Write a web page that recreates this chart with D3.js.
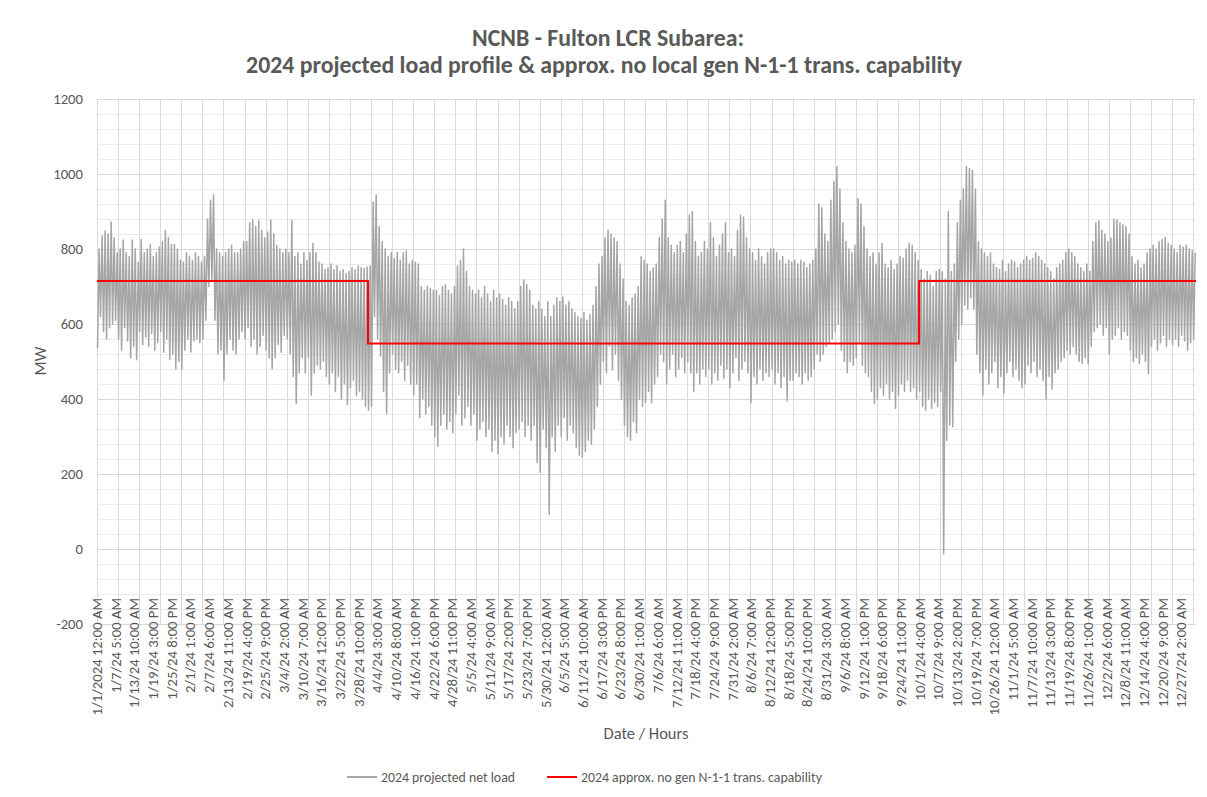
<!DOCTYPE html>
<html>
<head>
<meta charset="utf-8">
<script src="https://cdn.jsdelivr.net/npm/d3@7"></script>
<style>
  body { margin: 0; background: #fff; }
  text { font-family: Calibri, Carlito, Lato, sans-serif; fill: #595959; }
</style>
</head>
<body>
<svg id="chart" width="1207" height="797"></svg>
<script>
// daily high / low of the projected net load (MW), one value per day
const dailyHigh = [
  800, 835, 848, 840, 872, 830, 790,   800, 824, 790, 780, 824, 800, 765,
  825, 790, 800, 812, 780, 790, 805,   820, 850, 830, 812, 812, 800, 770,
  765, 790, 780, 770, 790, 780, 765,   780, 880, 930, 944, 800, 790, 780,
  790, 800, 810, 790, 790, 800, 820,   820, 870, 878, 860, 875, 850, 830,
  845, 877, 840, 810, 800, 790, 800,   790, 877, 780, 790, 760, 790, 770,
  790, 815, 790, 765, 760, 745, 750,   760, 745, 755, 740, 745, 735, 740,
  750, 745, 755, 750, 748, 752, 755,   925, 944, 860, 820, 800, 780, 790,
  775, 790, 770, 790, 795, 760, 770,   765, 760, 700, 690, 700, 695, 690,
  690, 675, 700, 705, 690, 680, 700,   755, 770, 800, 740, 700, 690, 680,
  690, 670, 700, 680, 660, 690, 670,   680, 665, 650, 670, 660, 640, 660,
  700, 717, 705, 690, 650, 640, 660,   640, 620, 660, 620, 650, 670, 660,
  672, 650, 660, 640, 630, 620, 615,   630, 610, 625, 650, 700, 760, 780,
  830, 850, 840, 830, 820, 760, 720,   660, 650, 670, 680, 700, 780, 770,
  760, 740, 750, 760, 830, 880, 930,   830, 810, 790, 810, 820, 790, 840,
  890, 900, 820, 780, 790, 820, 800,   870, 830, 780, 810, 840, 870, 790,
  800, 780, 850, 890, 885, 830, 800,   790, 770, 800, 780, 760, 790, 800,
  800, 790, 770, 780, 760, 770, 765,   770, 760, 770, 765, 750, 760, 770,
  800, 920, 910, 840, 820, 930, 980,  1020, 960, 870, 820, 800, 790, 810,
  935, 920, 860, 800, 780, 790, 760,   790, 815, 760, 750, 770, 745, 760,
  780, 775, 800, 815, 810, 790, 770,   745, 720, 740, 730, 700, 740, 745,
  740, 720, 900, 740, 760, 870, 930,   960, 1020, 1015, 1010, 960, 820, 800,
  790, 780, 790, 760, 750, 745, 770,   740, 760, 770, 765, 750, 760, 770,
  780, 770, 775, 790, 780, 770, 760,   750, 740, 720, 750, 760, 770, 790,
  800, 790, 780, 760, 750, 740, 760,   740, 820, 870, 875, 850, 840, 820,
  830, 880, 878, 870, 865, 860, 840,   780, 760, 770, 750, 760, 790, 800,
  810, 800, 820, 825, 830, 815, 810,   800, 790, 810, 805, 810, 800, 795,
  790
];
const dailyLow = [
  535, 620, 580, 560, 590, 600, 610,   560, 530, 590, 555, 510, 540, 505,
  580, 545, 565, 540, 575, 530, 550,   580, 525, 560, 505, 520, 480, 500,
  480, 530, 560, 525, 555, 560, 550,   560, 610, 700, 720, 610, 520, 530,
  450, 520, 560, 530, 520, 560, 580,   560, 590, 540, 560, 520, 540, 570,
  530, 510, 480, 510, 545, 525, 570,   560, 520, 460, 388, 470, 510, 470,
  510, 410, 470, 490, 480, 500, 460,   440, 470, 420, 460, 400, 440, 385,
  430, 450, 410, 420, 400, 380, 370,   380, 620, 560, 514, 420, 362, 470,
  520, 480, 470, 500, 450, 490, 440,   410, 440, 350, 400, 360, 380, 330,
  300, 274, 330, 360, 320, 340, 310,   360, 410, 330, 350, 380, 330, 360,
  290, 320, 340, 300, 320, 260, 290,   255, 300, 280, 330, 300, 270, 310,
  320, 340, 300, 330, 290, 330, 230,   205, 320, 270,  92, 300, 260, 330,
  300, 350, 290, 330, 310, 270, 250,   245, 260, 290, 280, 320, 380, 440,
  500, 470, 540, 478, 520, 450, 400,   330, 300, 290, 340, 310, 400, 380,
  390, 420, 390, 440, 460, 520, 500,   440, 480, 520, 460, 480, 510, 470,
  500, 470, 420, 470, 440, 480, 460,   480, 440, 470, 450, 490, 455, 480,
  430, 470, 510, 450, 480, 500, 470,   390, 460, 440, 480, 450, 470, 460,
  480, 440, 470, 430, 460, 395, 450,   450, 470, 460, 440, 470, 450, 460,
  480, 520, 500, 520, 540, 550, 560,   580, 600, 530, 500, 470, 500, 490,
  510, 550, 490, 470, 460, 420, 388,   400, 430, 410, 440, 400, 420, 375,
  410, 440, 420, 450, 420, 430, 400,   420, 380, 370, 400, 375, 390, 380,
  420, -13, 290, 330, 326, 500, 560,   600, 650, 640, 670, 640, 520, 470,
  410, 480, 440, 470, 500, 430, 460,   415, 470, 500, 460, 480, 450, 430,
  440, 490, 470, 500, 460, 480, 450,   400, 460, 427, 470, 480, 500, 510,
  530, 520, 540, 520, 500, 495, 510,   494, 540, 580, 590, 600, 570, 590,
  520, 560, 570, 590, 560, 580, 570,   530, 500, 510, 495, 520, 500, 468,
  540, 560, 530, 550, 570, 540, 560,   545, 560, 540, 570, 555, 530, 550,
  560
];

// transmission capability steps: start hour of each step and its MW value
const capStartHours = [0, 2160, 6552];
const capValues = [715, 548, 715];

const tickLabels = [
  "1/1/2024 12:00 AM", "1/7/24 5:00 AM", "1/13/24 10:00 AM", "1/19/24 3:00 PM",
  "1/25/24 8:00 PM", "2/1/24 1:00 AM", "2/7/24 6:00 AM", "2/13/24 11:00 AM",
  "2/19/24 4:00 PM", "2/25/24 9:00 PM", "3/4/24 2:00 AM", "3/10/24 7:00 AM",
  "3/16/24 12:00 PM", "3/22/24 5:00 PM", "3/28/24 10:00 PM", "4/4/24 3:00 AM",
  "4/10/24 8:00 AM", "4/16/24 1:00 PM", "4/22/24 6:00 PM", "4/28/24 11:00 PM",
  "5/5/24 4:00 AM", "5/11/24 9:00 AM", "5/17/24 2:00 PM", "5/23/24 7:00 PM",
  "5/30/24 12:00 AM", "6/5/24 5:00 AM", "6/11/24 10:00 AM", "6/17/24 3:00 PM",
  "6/23/24 8:00 PM", "6/30/24 1:00 AM", "7/6/24 6:00 AM", "7/12/24 11:00 AM",
  "7/18/24 4:00 PM", "7/24/24 9:00 PM", "7/31/24 2:00 AM", "8/6/24 7:00 AM",
  "8/12/24 12:00 PM", "8/18/24 5:00 PM", "8/24/24 10:00 PM", "8/31/24 3:00 AM",
  "9/6/24 8:00 AM", "9/12/24 1:00 PM", "9/18/24 6:00 PM", "9/24/24 11:00 PM",
  "10/1/24 4:00 AM", "10/7/24 9:00 AM", "10/13/24 2:00 PM", "10/19/24 7:00 PM",
  "10/26/24 12:00 AM", "11/1/24 5:00 AM", "11/7/24 10:00 AM", "11/13/24 3:00 PM",
  "11/19/24 8:00 PM", "11/26/24 1:00 AM", "12/2/24 6:00 AM", "12/8/24 11:00 AM",
  "12/14/24 4:00 PM", "12/20/24 9:00 PM", "12/27/24 2:00 AM"
];
const labelStep = 149;   // hours between category labels
const gridStep = 168;    // hours between vertical gridlines
const totalHours = 8760;
const yTicks = [-200, 0, 200, 400, 600, 800, 1000, 1200];

const svg = d3.select("#chart");
const x = d3.scaleLinear().domain([0, totalHours - 1]).range([97, 1196]);
const y = d3.scaleLinear().domain([-200, 1200]).range([624, 99]);

// minor gridlines
svg.append("g").selectAll("line")
    .data(d3.range(-200, 1201, 40).filter(v => v % 200 !== 0))
    .enter().append("line")
    .attr("x1", x(0)).attr("x2", x(totalHours - 1))
    .attr("y1", d => Math.round(y(d)) + 0.5).attr("y2", d => Math.round(y(d)) + 0.5)
    .attr("stroke", "#ececec").attr("stroke-width", 1);

// vertical gridlines
svg.append("g").selectAll("line")
    .data(d3.range(0, totalHours, gridStep))
    .enter().append("line")
    .attr("x1", d => Math.round(x(d)) + 0.5).attr("x2", d => Math.round(x(d)) + 0.5)
    .attr("y1", y(1200)).attr("y2", y(-200))
    .attr("stroke", "#d9d9d9").attr("stroke-width", 1);

// major gridlines
svg.append("g").selectAll("line")
    .data(yTicks)
    .enter().append("line")
    .attr("x1", x(0)).attr("x2", x(totalHours - 1))
    .attr("y1", d => Math.round(y(d)) + 0.5).attr("y2", d => Math.round(y(d)) + 0.5)
    .attr("stroke", "#d9d9d9").attr("stroke-width", 1);

// y labels
svg.append("g").selectAll("text")
    .data(yTicks)
    .enter().append("text")
    .attr("x", 83).attr("y", d => y(d) + 5)
    .attr("text-anchor", "end")
    .style("font-size", "14.7px")
    .text(d => d);

// x labels (they sit over the bottom of the plot, as in the original)
svg.append("g").selectAll("text")
    .data(tickLabels)
    .enter().append("text")
    .attr("transform", (d, i) => `translate(${x(i * labelStep) + 5},598) rotate(-90)`)
    .attr("text-anchor", "end")
    .style("font-size", "14.7px")
    .text(d => d);

// load line: low then high of each day
const loadPoints = [];
dailyLow.forEach((lo, d) => {
    loadPoints.push([d * 24 + 4, lo]);
    loadPoints.push([d * 24 + 17, dailyHigh[d]]);
});
svg.append("path")
    .datum(loadPoints)
    .attr("fill", "none")
    .attr("stroke", "#a5a5a5")
    .attr("stroke-width", 1.5)
    .attr("stroke-linejoin", "round")
    .attr("d", d3.line().x(d => x(d[0])).y(d => y(d[1])));

// capability step line
const capPoints = capStartHours.map((h, i) => [h, capValues[i]]);
capPoints.push([totalHours - 1, capValues[capValues.length - 1]]);
svg.append("path")
    .datum(capPoints)
    .attr("fill", "none")
    .attr("stroke", "#ff0000")
    .attr("stroke-width", 2)
    .attr("d", d3.line().curve(d3.curveStepAfter).x(d => x(d[0])).y(d => y(d[1])));

// titles
svg.append("text").attr("x", 608).attr("y", 46).attr("text-anchor", "middle")
    .style("font-size", "23.8px").style("font-weight", "bold")
    .text("NCNB - Fulton LCR Subarea:");
svg.append("text").attr("x", 604).attr("y", 73).attr("text-anchor", "middle")
    .style("font-size", "23.8px").style("font-weight", "bold")
    .text("2024 projected load profile & approx. no local gen N-1-1 trans. capability");

svg.append("text")
    .attr("transform", "translate(46,361) rotate(-90)")
    .attr("text-anchor", "middle")
    .style("font-size", "16.5px")
    .text("MW");
svg.append("text").attr("x", 646).attr("y", 739).attr("text-anchor", "middle")
    .style("font-size", "16.5px")
    .text("Date / Hours");

// legend
const legend = [
    { label: "2024 projected net load", color: "#a5a5a5", x: 347 },
    { label: "2024 approx. no gen N-1-1 trans. capability", color: "#ff0000", x: 547 }
];
const lg = svg.append("g").selectAll("g").data(legend).enter().append("g");
lg.append("line")
    .attr("x1", d => d.x).attr("x2", d => d.x + 30)
    .attr("y1", 777).attr("y2", 777)
    .attr("stroke", d => d.color).attr("stroke-width", 2);
lg.append("text")
    .attr("x", d => d.x + 34).attr("y", 782)
    .style("font-size", "13.8px")
    .text(d => d.label);
</script>
</body>
</html>
